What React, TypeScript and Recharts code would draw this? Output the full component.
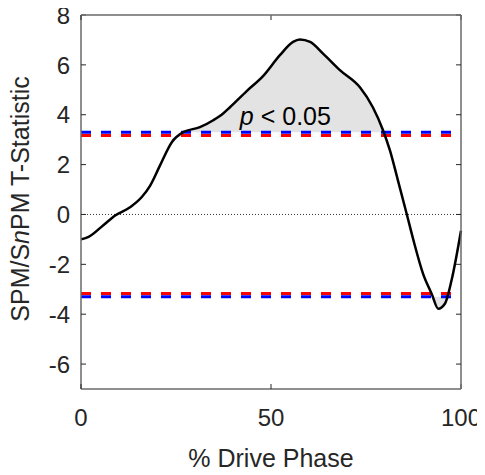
import { ComposedChart, Line, Area, XAxis, YAxis, ReferenceLine, ReferenceDot, Label } from "recharts";

// % drive phase and SPM t-statistic
const PHASE = [0, 2, 5.8, 9, 12.9, 16, 18.2, 20.8, 23.9, 26.9, 31.3, 34.8, 37.4, 39.2, 43.6, 47.9, 52.4, 55.8, 57.6, 60.3, 63.7, 68.2, 73.4, 76.8, 79.5, 81.3, 83.4, 85.7, 87.5, 90, 92.3, 94, 95.8, 97.5, 100];
const TSTAT = [-1.0, -0.9, -0.44, -0.04, 0.29, 0.7, 1.16, 1.97, 2.9, 3.3, 3.5, 3.78, 4.05, 4.3, 4.95, 5.55, 6.4, 6.92, 7.02, 6.92, 6.45, 5.78, 5.1, 4.3, 3.37, 2.57, 1.37, 0.03, -1.04, -2.37, -3.19, -3.78, -3.57, -2.65, -0.65];

const SPM_CRIT = 3.3; // blue
const SNPM_CRIT = 3.17; // red

const X_DOMAIN = [0, 100];
const Y_DOMAIN = [-7, 8];
const X_TICKS = [0, 50, 100];
const Y_TICKS = [-6, -4, -2, 0, 2, 4, 6, 8];

const FONT = '"Liberation Sans", Arial, sans-serif';
const INK = "#262626";
const BOX = "#6a6a6a";

const W = 485;
const H = 475;
// plot box inside the chart
const PLOT = { left: 81, top: 15, right: 24, bottom: 86 };
const PLOT_W = W - PLOT.left - PLOT.right;
const PLOT_H = H - PLOT.top - PLOT.bottom;

const data = PHASE.map((x, i) => ({
  x,
  t: TSTAT[i],
  up: [SPM_CRIT, Math.max(TSTAT[i], SPM_CRIT)],
  down: [Math.min(TSTAT[i], -SPM_CRIT), -SPM_CRIT],
}));

// bottom tick: inward tick at the bottom and the top of the box, label below;
// the last tick also draws the right side of the box
function BottomTick({ x, y, payload, index, visibleTicksCount }: any) {
  const last = payload.value === X_TICKS[X_TICKS.length - 1];
  return (
    <g>
      <line x1={x} x2={x} y1={y} y2={y - 5} stroke={INK} />
      <line x1={x} x2={x} y1={y - PLOT_H} y2={y - PLOT_H + 5} stroke={INK} />
      {last && <line x1={x} x2={x} y1={y} y2={y - PLOT_H} stroke={BOX} strokeWidth={1.5} />}
      <text x={x} y={y + 37} textAnchor="middle" fontSize={24} fontFamily={FONT} fill={INK}>
        {payload.value}
      </text>
    </g>
  );
}

// left tick: inward tick on the left and right of the box, label on the left;
// the top tick also draws the top side of the box
function LeftTick({ x, y, payload }: any) {
  const top = payload.value === Y_TICKS[Y_TICKS.length - 1];
  return (
    <g>
      <line x1={x} x2={x + 5} y1={y} y2={y} stroke={INK} />
      <line x1={x + PLOT_W} x2={x + PLOT_W - 5} y1={y} y2={y} stroke={INK} />
      {top && <line x1={x} x2={x + PLOT_W} y1={y} y2={y} stroke={BOX} strokeWidth={1.5} />}
      <text x={x - 11} y={y} dy="0.36em" textAnchor="end" fontSize={24} fontFamily={FONT} fill={INK}>
        {payload.value}
      </text>
    </g>
  );
}

export default function App() {
  return (
    <div style={{ margin: -8 }}>
      <ComposedChart
        width={W}
        height={H}
        data={data}
        margin={{ top: PLOT.top, right: PLOT.right, bottom: 0, left: 0 }}
      >
        <XAxis
          type="number"
          dataKey="x"
          domain={X_DOMAIN}
          ticks={X_TICKS}
          height={PLOT.bottom}
          tickSize={0}
          tickMargin={0}
          tickLine={false}
          tick={<BottomTick />}
          axisLine={{ stroke: BOX, strokeWidth: 1.5 }}
        >
          <Label
            content={({ viewBox }: any) => (
              <text x={viewBox.x + viewBox.width / 2} y={viewBox.y + 78} textAnchor="middle" fontSize={25} fontFamily={FONT} fill={INK}>
                % Drive Phase
              </text>
            )}
          />
        </XAxis>
        <YAxis
          type="number"
          domain={Y_DOMAIN}
          ticks={Y_TICKS}
          width={PLOT.left}
          tickSize={0}
          tickMargin={0}
          tickLine={false}
          tick={<LeftTick />}
          axisLine={{ stroke: BOX, strokeWidth: 1.5 }}
        >
          <Label
            content={({ viewBox }: any) => {
              const cx = 29;
              const cy = viewBox.y + viewBox.height / 2 - 3;
              return (
                <text x={cx} y={cy} transform={`rotate(-90 ${cx} ${cy})`} textAnchor="middle" fontSize={25} fontFamily={FONT} fill={INK}>
                  SPM/S<tspan fontStyle="italic">n</tspan>PM T-Statistic
                </text>
              );
            }}
          />
        </YAxis>
        <Area type="monotone" dataKey="up" fill="#e3e3e3" fillOpacity={1} stroke="none" isAnimationActive={false} />
        <Area type="monotone" dataKey="down" fill="#e3e3e3" fillOpacity={1} stroke="none" isAnimationActive={false} />
        <ReferenceLine y={0} stroke="#000" strokeWidth={0.8} strokeDasharray="1 2" />
        <ReferenceLine y={SPM_CRIT} stroke="#0000ff" strokeWidth={3} strokeDasharray="10 10" />
        <ReferenceLine y={SNPM_CRIT} stroke="#ff0000" strokeWidth={3} strokeDasharray="10 10" />
        <ReferenceLine y={-SNPM_CRIT} stroke="#ff0000" strokeWidth={3} strokeDasharray="10 10" />
        <ReferenceLine y={-SPM_CRIT} stroke="#0000ff" strokeWidth={3} strokeDasharray="10 10" />
        <Line type="monotone" dataKey="t" stroke="#000" strokeWidth={2.5} dot={false} isAnimationActive={false} />
        <ReferenceDot
          x={41.8}
          y={3.6}
          r={0}
          shape={(p: any) => (
            <text x={p.cx} y={p.cy} fontSize={25} fontFamily={FONT} fill="#000">
              <tspan fontStyle="italic">p</tspan> &lt; 0.05
            </text>
          )}
        />
      </ComposedChart>
    </div>
  );
}
